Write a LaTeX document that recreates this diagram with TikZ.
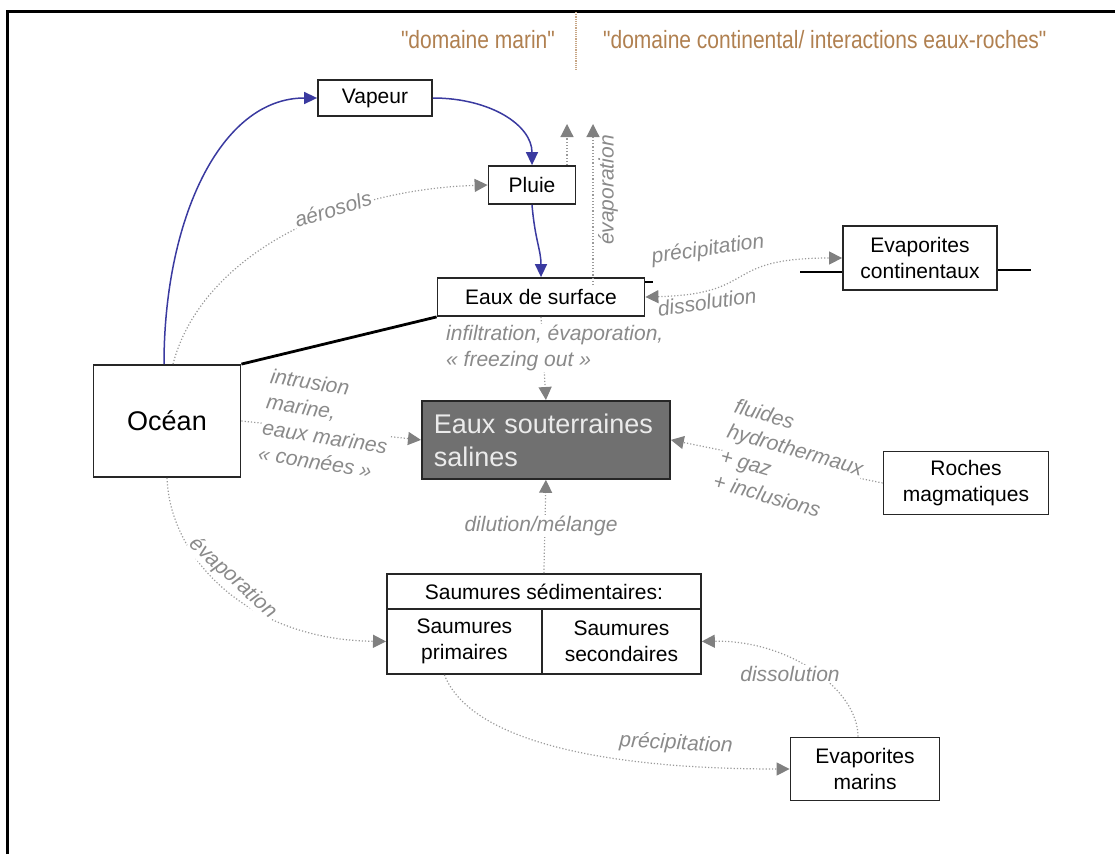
\documentclass[tikz,border=0pt]{standalone}
\usepackage{fontspec}
\setmainfont{Liberation Sans}
\usetikzlibrary{arrows.meta}
\definecolor{lbl}{HTML}{8A8A8A}
\definecolor{dotc}{HTML}{9A9A9A}
\definecolor{arrc}{HTML}{808080}
\definecolor{bluec}{HTML}{3A3AA0}
\definecolor{brownc}{HTML}{B08050}
\definecolor{darkbox}{HTML}{707070}
\tikzset{gtri/.tip={Triangle[length=13pt,width=13pt,fill=arrc,color=arrc]}}
\begin{document}
\begin{tikzpicture}[x=1pt,y=-1pt,
  box/.style={draw=black!85,line width=1.8pt,fill=white,inner sep=0pt,align=center,font=\fontsize{21}{26}\selectfont},
  flow/.style={draw=bluec,line width=1.5pt,-{Triangle[length=13pt,width=12pt]}},
  dotarr/.style={draw=dotc,line width=1.2pt,dotted,-gtri},
  lab/.style={text=lbl,font=\fontsize{21}{26}\selectfont\itshape,inner sep=1pt},
  wlab/.style={lab,fill=white},
  hdr/.style={text=brownc,font=\fontsize{25}{30}\selectfont,inner sep=0pt,xscale=0.84,transform shape},
  ground/.style={draw=black,line width=2.8pt}
]
\useasboundingbox (0,0) rectangle (1115,854);
% frame
\draw[line width=3pt] (7,854) -- (7,11) -- (1115,11);
% header
\node[hdr,anchor=east] (hm) at (555,40) {\textquotedbl domaine marin\textquotedbl};
\node[hdr,anchor=west] (hc) at (603,40) {\textquotedbl domaine continental/ interactions eaux-roches\textquotedbl};
\coordinate (sep1) at (576,12);
\coordinate (sep2) at (576,70);
\draw[brownc!70,line width=1.2pt,densely dotted] (sep1) -- (sep2);
% boxes
\node[box,minimum width=114pt,minimum height=36pt] (vap) at (375,98) {Vapeur};
\node[box,minimum width=87pt,minimum height=38pt] (plu) at (532,185) {Pluie};
\node[box,minimum width=207pt,minimum height=38pt] (surf) at (541,297) {Eaux de surface};
\node[box,minimum width=154pt,minimum height=64pt] (evc) at (920,258) {Evaporites\\continentaux};
\node[box,minimum width=147pt,minimum height=112pt,font=\fontsize{27}{32}\selectfont] (oce) at (167,421) {Océan};
\node[box,minimum height=78pt,fill=darkbox,text=white!92!black,align=left,text width=224pt,inner xsep=12pt,anchor=north west,font=\fontsize{27}{33}\selectfont] (sout) at (421,400) {Eaux souterraines\\salines};
\node[box,minimum width=165pt,minimum height=63pt] (roc) at (966,483) {Roches\\magmatiques};
\node[box,minimum width=314pt,minimum height=35pt,anchor=north west] (sat) at (386,573) {Saumures sédimentaires:};
\node[box,minimum width=155pt,minimum height=65pt,anchor=north west] (sp) at (386,608) {Saumures\\primaires};
\node[box,minimum width=159pt,minimum height=65pt,anchor=north west] (ss) at (541,608) {Saumures\\secondaires};
\node[box,minimum width=149pt,minimum height=63pt] (evm) at (865,769) {Evaporites\\marins};
% ground lines
\draw[ground] (oce.north east) -- (surf.south west);
\coordinate (g1) at (800,272);
\coordinate (g2) at (1031,270);
\draw[ground] (g1) -- (evc.west |- g1);
\draw[ground] (evc.east |- g2) -- (g2);
\coordinate (g3) at (653,282);
\draw[line width=2pt] (surf.east |- g3) -- (g3);
% blue flows
\draw[flow] ([xshift=-3pt]oce.north) .. controls (164,220) and (220,98) .. (vap.west);
\draw[flow] (vap.east) .. controls (490,98) and (532,125) .. (plu.north);
\draw[flow] (plu.south) .. controls (535,240) and (541,250) .. (surf.north);
% grey dotted
\draw[dotarr] ([xshift=6pt]oce.north) .. controls (200,260) and (330,190) .. (plu.west);
\node[wlab,rotate=17] (la) at (333,209) {aérosols};
\coordinate (e1) at (567,124);
\coordinate (e2) at (593,124);
\draw[dotarr] (plu.north -| e1) -- (e1);
\draw[dotarr] ([yshift=-8pt]surf.north -| e2) -- (e2);
\node[lab,rotate=90] (le) at (608,190) {évaporation};
\draw[dotarr,gtri-gtri] (surf.east) .. controls (760,294) and (720,258) .. (evc.west);
\node[lab,rotate=8] (lp) at (708,250) {précipitation};
\node[lab,rotate=8] (ld) at (707,302) {dissolution};
\draw[dotarr] (surf.south) -- (sout.north);
\node[wlab,align=left,anchor=north west] (li) at (445,324) {infiltration, évaporation,\\« freezing out »};
\draw[dotarr] (oce.east) -- (sout.west);
\node[wlab,align=left,rotate=-9] (lin) at (327,424) {intrusion\\marine,\\eaux marines\\« connées »};
\draw[dotarr] (roc.west) -- (sout.east);
\node[wlab,align=left,rotate=-16,inner sep=0pt] (lf) at (792,462) {fluides\\hydrothermaux\\+ gaz\\+ inclusions};
\draw[dotarr] (sat.north) -- (sout.south);
\node[wlab] (ldm) at (541,526) {dilution/mélange};
\draw[dotarr] (oce.south) .. controls (170,560) and (250,640) .. (sp.west);
\node[wlab,rotate=-42] (lev) at (233,578) {évaporation};
\draw[dotarr] ([xshift=-20pt]sp.south) .. controls (470,740) and (600,769) .. (evm.west);
\node[wlab,rotate=-3] (lpr) at (676,744) {précipitation};
\draw[dotarr] ([xshift=-7pt]evm.north) .. controls (858,690) and (790,640) .. (ss.east);
\node[wlab] (lds) at (790,674) {dissolution};
\end{tikzpicture}
\end{document}
